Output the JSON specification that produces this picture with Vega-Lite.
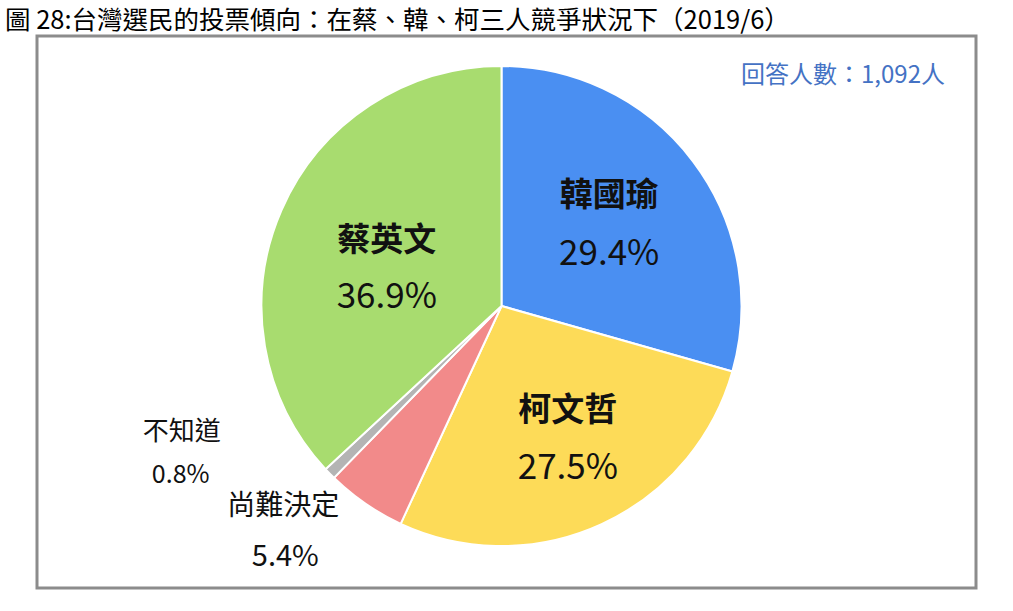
{
  "$schema": "https://vega.github.io/schema/vega-lite/v6.json",
  "width": 939,
  "height": 552,
  "autosize": {"type": "none"},
  "padding": {"left": 37, "right": 37, "top": 36, "bottom": 23},
  "background": "white",
  "title": {
    "text": "圖 28:台灣選民的投票傾向：在蔡、韓、柯三人競爭狀況下（2019/6）",
    "anchor": "start",
    "dx": -32,
    "fontSize": 25.5,
    "font": "Noto Sans CJK TC",
    "fontWeight": "normal",
    "color": "#000000",
    "offset": 2
  },
  "view": {"stroke": "#8c8c8c", "strokeWidth": 3},
  "config": {"view": {"stroke": "#8c8c8c", "strokeWidth": 3}},
  "data": {
    "values": [
      {"name": "韓國瑜", "share": 0.294, "order": 1},
      {"name": "柯文哲", "share": 0.275, "order": 2},
      {"name": "尚難決定", "share": 0.054, "order": 3},
      {"name": "不知道", "share": 0.008, "order": 4},
      {"name": "蔡英文", "share": 0.369, "order": 5}
    ]
  },
  "encoding": {
    "theta": {"field": "share", "type": "quantitative", "stack": true},
    "order": {"field": "order", "type": "quantitative"},
    "color": {
      "field": "name",
      "type": "nominal",
      "scale": {
        "domain": ["韓國瑜", "柯文哲", "尚難決定", "不知道", "蔡英文"],
        "range": ["#4a8ff2", "#fddb58", "#f28a8a", "#b4b4b4", "#a8dc6f"]
      },
      "legend": null
    }
  },
  "layer": [
    {
      "mark": {"type": "arc", "outerRadius": 240, "stroke": "white", "strokeWidth": 2, "x": {"expr": "width/2 - 5"}, "y": {"expr": "height/2 - 6"}}
    },
    {
      "mark": {"type": "text", "radius": 135, "dy": -29, "fontSize": 33, "fontWeight": "bold", "font": "Noto Sans CJK TC", "x": {"expr": "width/2 - 5"}, "y": {"expr": "height/2 - 6"}},
      "encoding": {
        "text": {"condition": {"test": "datum.name === '韓國瑜'", "field": "name"}, "value": ""},
        "color": {"value": "#111111"}
      }
    },
    {
      "mark": {"type": "text", "radius": 135, "dy": 29, "fontSize": 35, "font": "Noto Sans CJK TC", "x": {"expr": "width/2 - 5"}, "y": {"expr": "height/2 - 6"}},
      "encoding": {
        "text": {"condition": {"test": "datum.name === '韓國瑜'", "field": "share", "format": ".1%"}, "value": ""},
        "color": {"value": "#111111"}
      }
    },
    {
      "mark": {"type": "text", "radius": 147, "dx": 5, "dy": -29, "fontSize": 33, "fontWeight": "bold", "font": "Noto Sans CJK TC", "x": {"expr": "width/2 - 5"}, "y": {"expr": "height/2 - 6"}},
      "encoding": {
        "text": {"condition": {"test": "datum.name === '柯文哲'", "field": "name"}, "value": ""},
        "color": {"value": "#111111"}
      }
    },
    {
      "mark": {"type": "text", "radius": 147, "dx": 5, "dy": 28, "fontSize": 35, "font": "Noto Sans CJK TC", "x": {"expr": "width/2 - 5"}, "y": {"expr": "height/2 - 6"}},
      "encoding": {
        "text": {"condition": {"test": "datum.name === '柯文哲'", "field": "share", "format": ".1%"}, "value": ""},
        "color": {"value": "#111111"}
      }
    },
    {
      "mark": {"type": "text", "radius": 135, "dx": 9, "dy": -11, "fontSize": 33, "fontWeight": "bold", "font": "Noto Sans CJK TC", "x": {"expr": "width/2 - 5"}, "y": {"expr": "height/2 - 6"}},
      "encoding": {
        "text": {"condition": {"test": "datum.name === '蔡英文'", "field": "name"}, "value": ""},
        "color": {"value": "#111111"}
      }
    },
    {
      "mark": {"type": "text", "radius": 135, "dx": 9, "dy": 45, "fontSize": 35, "font": "Noto Sans CJK TC", "x": {"expr": "width/2 - 5"}, "y": {"expr": "height/2 - 6"}},
      "encoding": {
        "text": {"condition": {"test": "datum.name === '蔡英文'", "field": "share", "format": ".1%"}, "value": ""},
        "color": {"value": "#111111"}
      }
    },
    {
      "mark": {"type": "text", "radius": 240, "dx": -148, "dy": -42, "fontSize": 26, "font": "Noto Sans CJK TC", "x": {"expr": "width/2 - 5"}, "y": {"expr": "height/2 - 6"}},
      "encoding": {
        "text": {"condition": {"test": "datum.name === '不知道'", "field": "name"}, "value": ""},
        "color": {"value": "#111111"}
      }
    },
    {
      "mark": {"type": "text", "radius": 240, "dx": -149, "dy": 1, "fontSize": 25, "font": "Noto Sans CJK TC", "x": {"expr": "width/2 - 5"}, "y": {"expr": "height/2 - 6"}},
      "encoding": {
        "text": {"condition": {"test": "datum.name === '不知道'", "field": "share", "format": ".1%"}, "value": ""},
        "color": {"value": "#111111"}
      }
    },
    {
      "mark": {"type": "text", "radius": 240, "dx": -82, "dy": 3, "fontSize": 28, "font": "Noto Sans CJK TC", "x": {"expr": "width/2 - 5"}, "y": {"expr": "height/2 - 6"}},
      "encoding": {
        "text": {"condition": {"test": "datum.name === '尚難決定'", "field": "name"}, "value": ""},
        "color": {"value": "#111111"}
      }
    },
    {
      "mark": {"type": "text", "radius": 240, "dx": -80, "dy": 53, "fontSize": 29, "font": "Noto Sans CJK TC", "x": {"expr": "width/2 - 5"}, "y": {"expr": "height/2 - 6"}},
      "encoding": {
        "text": {"condition": {"test": "datum.name === '尚難決定'", "field": "share", "format": ".1%"}, "value": ""},
        "color": {"value": "#111111"}
      }
    },
    {
      "data": {"values": [{"note": "回答人數：1,092人"}]},
      "mark": {"type": "text", "x": {"expr": "width - 31"}, "y": 40, "align": "right", "baseline": "middle", "fontSize": 24, "letterSpacing": 1.5, "font": "Noto Sans CJK TC", "color": "#4472c4"},
      "encoding": {
        "text": {"field": "note", "type": "nominal"},
        "theta": null,
        "order": null,
        "color": null
      }
    }
  ]
}
